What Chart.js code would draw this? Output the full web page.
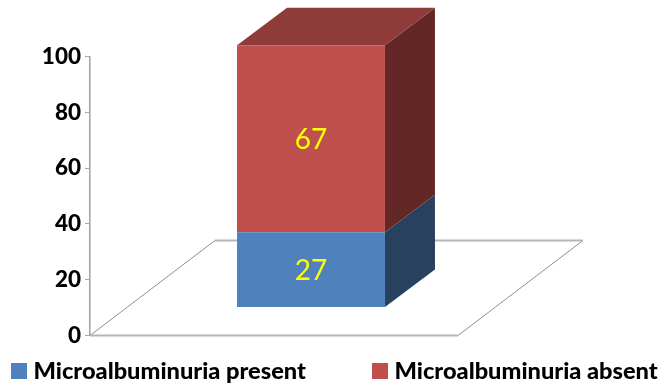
<!DOCTYPE html>
<html>
<head>
<meta charset="utf-8">
<title>Microalbuminuria</title>
<script src="https://cdn.jsdelivr.net/npm/chart.js@4/dist/chart.umd.min.js"></script>
<style>
  html, body { margin: 0; padding: 0; background: #fff; }
  #wrap { position: relative; width: 663px; height: 388px; }
</style>
</head>
<body>
<div id="wrap"><canvas id="chart"></canvas></div>
<script>
const categories = ["Patients"]
const presentValues = [27]
const absentValues = [67]
const seriesNames = ["Microalbuminuria present", "Microalbuminuria absent"]
const yMin = 0
const yMax = 100
const yStep = 20

const FONT = "Lato, 'Open Sans', sans-serif"

// Faces of each series: front, side, top
const shades = [
  { front: "#4F81BD", side: "#28415F", top: "#3A5F8C" },
  { front: "#C0504D", side: "#632726", top: "#8E3B3A" },
]

// Bars sit ten axis units up the floor, and shifted sideways to match
const BAR_LIFT_UNITS = 10
const BAR_SHIFT_X = 37
const DEPTH_X = 50
const DEPTH_Y = 37.5
const FLOOR_DX = 125
const FLOOR_DY = 95

function poly(ctx, pts, fill) {
  ctx.beginPath()
  pts.forEach((p, i) => (i ? ctx.lineTo(p[0], p[1]) : ctx.moveTo(p[0], p[1])))
  ctx.closePath()
  ctx.fillStyle = fill
  ctx.fill()
}

function barLift(chart) {
  const y = chart.scales.y
  return y.getPixelForValue(yMin) - y.getPixelForValue(BAR_LIFT_UNITS)
}

const box3d = {
  id: "box3d",
  beforeDatasetsDraw(chart) {
    const { ctx, chartArea: area } = chart
    const lift = barLift(chart)

    // floor outline
    ctx.save()
    ctx.strokeStyle = "#8F8F8F"
    ctx.lineWidth = 1
    ctx.beginPath()
    ctx.moveTo(area.left, area.bottom)
    ctx.lineTo(area.left + FLOOR_DX, area.bottom - FLOOR_DY)
    ctx.moveTo(area.right, area.bottom)
    ctx.lineTo(area.right + FLOOR_DX, area.bottom - FLOOR_DY)
    ctx.stroke()
    ctx.strokeStyle = "#B5B5B5"
    ctx.lineWidth = 2
    ctx.beginPath()
    ctx.moveTo(area.left + FLOOR_DX, area.bottom - FLOOR_DY)
    ctx.lineTo(area.right + FLOOR_DX, area.bottom - FLOOR_DY)
    ctx.moveTo(area.left, area.bottom)
    ctx.lineTo(area.right, area.bottom)
    ctx.stroke()
    ctx.restore()

    // side and top faces, built from the bar elements
    chart.data.datasets.forEach((ds, i) => {
      const bar = chart.getDatasetMeta(i).data[0]
      const right = bar.x + bar.width / 2 + BAR_SHIFT_X
      const left = bar.x - bar.width / 2 + BAR_SHIFT_X
      const top = bar.y - lift
      const bottom = bar.base - lift
      poly(ctx, [[right, top], [right + DEPTH_X, top - DEPTH_Y], [right + DEPTH_X, bottom - DEPTH_Y], [right, bottom]], shades[i].side)
      if (i === chart.data.datasets.length - 1) {
        poly(ctx, [[left, top], [left + DEPTH_X, top - DEPTH_Y], [right + DEPTH_X, top - DEPTH_Y], [right, top]], shades[i].top)
      }
    })

    ctx.save()
    ctx.translate(BAR_SHIFT_X, -lift)
  },
  afterDatasetsDraw(chart) {
    const { ctx } = chart
    ctx.restore()
    const lift = barLift(chart)

    // value labels in the middle of the front faces
    ctx.save()
    ctx.font = "28px " + FONT
    ctx.fillStyle = "#FFFF00"
    ctx.textAlign = "center"
    ctx.textBaseline = "middle"
    chart.data.datasets.forEach((ds, i) => {
      const bar = chart.getDatasetMeta(i).data[0]
      ctx.fillText(String(ds.data[0]), bar.x + BAR_SHIFT_X, (bar.y + bar.base) / 2 - lift + 1.5)
    })
    ctx.restore()
  },
}

// Legend along the bottom, with the tight swatch-to-text gap
const legendRow = {
  id: "legendRow",
  afterDraw(chart) {
    const { ctx } = chart
    const swatchX = [11, 372]
    ctx.save()
    ctx.font = "900 23.6px " + FONT
    ctx.textBaseline = "middle"
    ctx.textAlign = "left"
    chart.data.datasets.forEach((ds, i) => {
      ctx.fillStyle = ds.backgroundColor
      ctx.fillRect(swatchX[i], 363, 16, 16)
      ctx.fillStyle = "#000"
      ctx.fillText(ds.label, swatchX[i] + 22.5, 371.5)
    })
    ctx.restore()
  },
}

new Chart(document.getElementById("chart"), {
  type: "bar",
  data: {
    labels: categories,
    datasets: [
      { label: seriesNames[0], data: presentValues, backgroundColor: shades[0].front, clip: false },
      { label: seriesNames[1], data: absentValues, backgroundColor: shades[1].front, clip: false },
    ],
  },
  options: {
    responsive: true,
    maintainAspectRatio: false,
    animation: false,
    layout: { padding: { top: 56.5, right: 205, bottom: 52.5, left: 0 } },
    datasets: { bar: { categoryPercentage: 1, barPercentage: 0.402 } },
    scales: {
      x: {
        stacked: true,
        grid: { display: false },
        border: { display: false },
        ticks: { display: false },
        afterFit: (scale) => { scale.height = 0 },
      },
      y: {
        stacked: true,
        min: yMin,
        max: yMax,
        afterFit: (scale) => { scale.width = 90 },
        border: { color: "#A0A0A0", width: 1.5 },
        grid: { drawOnChartArea: false, color: "#A6A6A6", tickLength: 5 },
        ticks: {
          stepSize: yStep,
          padding: 4,
          color: "#000",
          font: { family: FONT, size: 22.5, weight: "900" },
        },
      },
    },
    plugins: { legend: { display: false }, tooltip: { enabled: false } },
  },
  plugins: [box3d, legendRow],
})
</script>
</body>
</html>
